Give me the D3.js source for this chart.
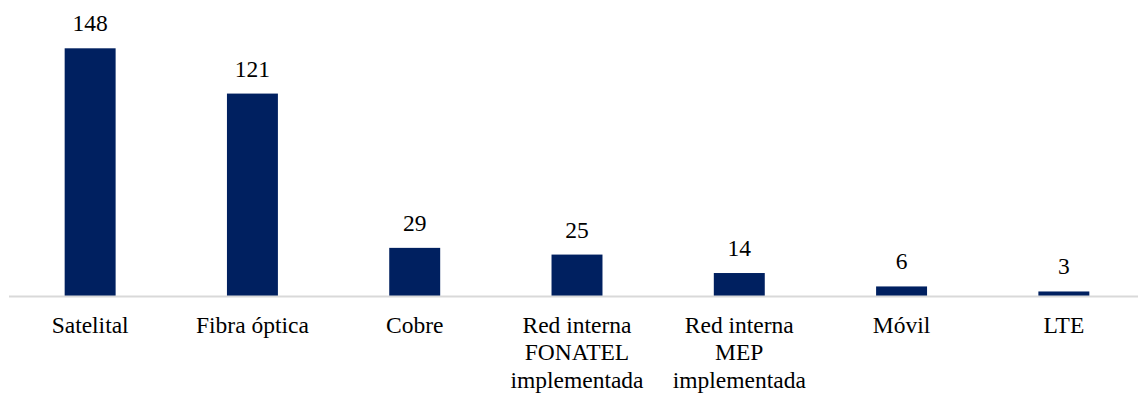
<!DOCTYPE html>
<html><head><meta charset="utf-8">
<script src="https://cdn.jsdelivr.net/npm/d3@7"></script>
<style>body{margin:0;background:#fff}svg{display:block}
text{font-family:"Liberation Serif",serif;font-size:23.5px;fill:#000}</style>
</head><body>
<svg id="c" width="1138" height="393"></svg>
<script>
const categories = [["Satelital"],["Fibra óptica"],["Cobre"],["Red interna","FONATEL","implementada"],["Red interna","MEP","implementada"],["Móvil"],["LTE"]];
const values = [148,121,29,25,14,6,3];

const svg = d3.select("#c");
const baseY = 296.5;
const x = d3.scaleBand().domain(d3.range(values.length)).range([9, 1145]).paddingInner(0.686).paddingOuter(0.343);
const y = d3.scaleLinear().domain([0, 148]).range([baseY, 48.3]);

svg.selectAll("rect.bar").data(values).join("rect")
  .attr("class","bar")
  .attr("x",(d,i)=>x(i)).attr("width",x.bandwidth())
  .attr("y",d=>y(d)).attr("height",d=>baseY-y(d))
  .attr("fill","#002060");

svg.append("line").attr("x1",9).attr("x2",1138).attr("y1",baseY).attr("y2",baseY)
  .attr("stroke","#d9d9d9").attr("stroke-width",2);

svg.selectAll("text.val").data(values).join("text")
  .attr("class","val")
  .attr("x",(d,i)=>x(i)+x.bandwidth()/2).attr("y",d=>y(d)-17)
  .attr("text-anchor","middle")
  .text(d=>d);

const cat = svg.selectAll("text.cat").data(categories).join("text")
  .attr("class","cat")
  .attr("x",(d,i)=>x(i)+x.bandwidth()/2).attr("y",332.5)
  .attr("text-anchor","middle");
cat.selectAll("tspan").data((d,i)=>d.map(t=>({t,i}))).join("tspan")
  .attr("x",d=>x(d.i)+x.bandwidth()/2)
  .attr("dy",(d,j)=>j===0?0:27.5)
  .text(d=>d.t);
</script>
</body></html>
